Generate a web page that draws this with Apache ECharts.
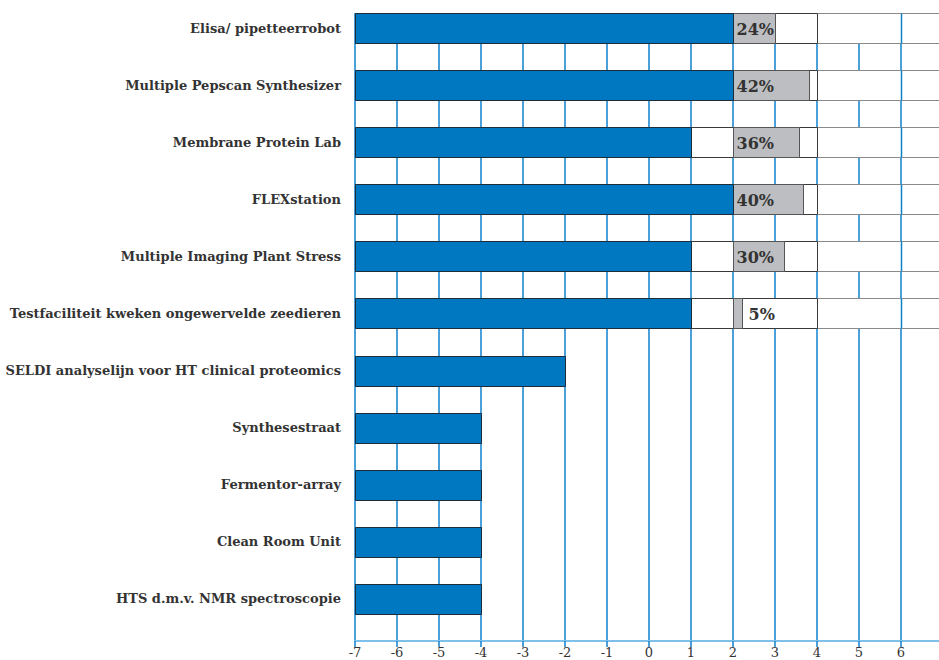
<!DOCTYPE html>
<html>
<head>
<meta charset="utf-8">
<script src="https://cdn.jsdelivr.net/npm/echarts@6/dist/echarts.min.js"></script>
<style>
html,body{margin:0;padding:0;background:#fff;overflow:hidden;}
#chart{width:939px;height:660px;}
</style>
</head>
<body>
<div id="chart"></div>
<script>
const categories = [
  'Elisa/ pipetteerrobot',
  'Multiple Pepscan Synthesizer',
  'Membrane Protein Lab',
  'FLEXstation',
  'Multiple Imaging Plant Stress',
  'Testfaciliteit kweken ongewervelde zeedieren',
  'SELDI analyselijn voor HT clinical proteomics',
  'Synthesestraat',
  'Fermentor-array',
  'Clean Room Unit',
  'HTS d.m.v. NMR spectroscopie'
];
const blueValues = [2, 2, 1, 2, 1, 1, -2, -4, -4, -4, -4];
const grayEnds = [3.0, 3.8, 3.57, 3.67, 3.22, 2.21, null, null, null, null, null];
const percentLabels = ['24%', '42%', '36%', '40%', '30%', '5%', '', '', '', '', ''];
const axisMin = -7;
const axisMax = 7;
const grayStart = 2;
const boxEnd = 4;
const bandBreak = 6;
const xTicks = [-7, -6, -5, -4, -3, -2, -1, 0, 1, 2, 3, 4, 5, 6];

const data = categories.map((c, i) => [i, blueValues[i], grayEnds[i] == null ? NaN : grayEnds[i]]);

const BLUE = '#0078c1';
const GRID = '#0f80cc';
const FONT = 'DejaVu Serif';

function renderItem(params, api) {
  const idx = api.value(0);
  const v = api.value(1);
  const g = api.value(2);
  const bandH = api.size([0, 1])[1];
  const c = api.coord([axisMin, idx]);
  const top = Math.round(c[1] - bandH / 2) + 0.5;
  const h = Math.round(bandH * 0.525);
  const X = (val) => Math.round(api.coord([val, idx])[0]) + 0.5;
  const children = [];
  if (!isNaN(g)) {
    const x4 = X(boxEnd), x6 = X(bandBreak), xEnd = X(axisMax);
    children.push({type: 'rect', z2: 1, shape: {x: x4, y: top, width: xEnd - x4, height: h}, style: {fill: '#ffffff', opacity: 1}});
    children.push({type: 'line', z2: 2, shape: {x1: x4, y1: top, x2: xEnd, y2: top}, style: {stroke: '#8a8a8a', lineWidth: 1.2}});
    children.push({type: 'line', z2: 2, shape: {x1: x4, y1: top + h, x2: xEnd, y2: top + h}, style: {stroke: '#8a8a8a', lineWidth: 1.2}});
    children.push({type: 'line', z2: 3, shape: {x1: x6, y1: top, x2: x6, y2: top + h}, style: {stroke: GRID, lineWidth: 1.5}});
    const xv = X(v);
    children.push({type: 'rect', z2: 4, shape: {x: xv, y: top, width: x4 - xv, height: h}, style: {fill: '#ffffff', stroke: '#3a3a3a', lineWidth: 1}});
    const x2 = X(grayStart), xg = X(g);
    children.push({type: 'rect', z2: 5, shape: {x: x2, y: top, width: xg - x2, height: h}, style: {fill: '#bdbec1', stroke: '#555', lineWidth: 1}});
    const inside = (g - grayStart) >= 0.9;
    children.push({
      type: 'text',
      z2: 7,
      style: {
        text: percentLabels[idx],
        x: inside ? x2 + 3 : xg + 6,
        y: top + h / 2 + 1,
        verticalAlign: 'middle',
        align: 'left',
        fill: '#333',
        font: 'bold 16px "' + FONT + '"'
      }
    });
  }
  const x0 = X(axisMin), xv = X(v);
  children.push({type: 'rect', z2: 6, shape: {x: x0, y: top, width: xv - x0, height: h}, style: {fill: BLUE, stroke: '#1d2c3a', lineWidth: 1}});
  return {type: 'group', children: children};
}

const chart = echarts.init(document.getElementById('chart'), null, {renderer: 'svg'});
chart.setOption({
  animation: false,
  backgroundColor: '#fff',
  grid: {left: 355, width: 588, top: 13, bottom: 19, containLabel: false, outerBoundsMode: 'none'},
  xAxis: {
    type: 'value',
    min: axisMin,
    max: axisMax,
    interval: 1,
    axisLine: {show: true, lineStyle: {color: '#7fc0ea', width: 2}},
    axisTick: {show: true, length: 6, lineStyle: {color: GRID, width: 1.5}},
    axisLabel: {
      margin: 5,
      fontFamily: FONT,
      fontSize: 13,
      lineHeight: 13,
      color: '#333',
      formatter: (val) => xTicks.indexOf(val) >= 0 ? String(val) : ''
    },
    splitLine: {show: true, lineStyle: {color: GRID, width: 1.5}}
  },
  yAxis: {
    type: 'category',
    inverse: true,
    data: categories,
    axisLine: {show: false},
    axisTick: {show: false},
    splitLine: {show: false},
    axisLabel: {
      margin: 14,
      fontFamily: FONT,
      fontWeight: 'bold',
      fontSize: 13,
      color: '#333',
      verticalAlign: 'bottom',
      lineHeight: 27
    }
  },
  series: [{
    type: 'custom',
    z: 10,
    renderItem: renderItem,
    clip: false,
    encode: {x: [1, 2], y: 0},
    emphasis: {disabled: true},
    data: data
  }]
});
</script>
</body>
</html>
